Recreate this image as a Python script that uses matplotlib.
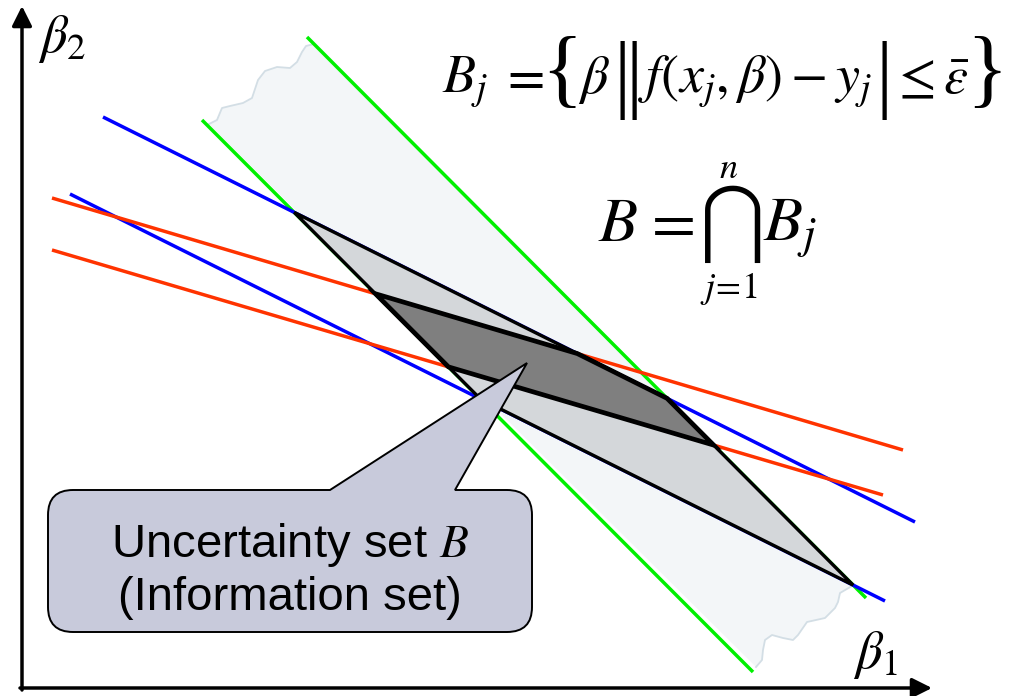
import numpy as np
import matplotlib
matplotlib.use("Agg")
import matplotlib.pyplot as plt
from matplotlib.path import Path
from matplotlib.patches import PathPatch, Polygon

plt.rcParams['font.family'] = ['Liberation Sans', 'DejaVu Sans']
plt.rcParams['mathtext.fontset'] = 'stix'

# constraint lines in the (beta1, beta2) plane, given by two end points each
green_lo = [(202, 120), (753, 672)]
green_hi = [(307, 37), (866, 598)]
blue_hi = [(103, 117), (915, 522)]
blue_lo = [(70, 194), (885, 601)]
red_hi = [(52, 198), (903, 450)]
red_lo = [(52, 250), (883, 495)]

# ragged ends of the shaded band between the green lines
band_top = [(209, 124), (217, 120), (222, 108), (230, 106), (243, 103), (252, 98),
            (258, 80), (265, 71), (277, 67), (290, 68), (297, 62), (302, 52),
            (306, 46), (314, 44)]
band_bottom = [(852, 586), (840, 593), (838, 602), (835, 608), (825, 618), (807, 622),
               (798, 635), (793, 640), (783, 638), (772, 635), (765, 640), (763, 650),
               (762, 660), (756, 667)]

callout_box = (48, 490, 532, 632)   # x0, y_top, x1, y_bottom
callout_tip = [(330, 490), (527, 363), (455, 490)]


def cross(l1, l2):
    (x1, y1), (x2, y2) = l1
    (x3, y3), (x4, y4) = l2
    a = np.array([[x2 - x1, -(x4 - x3)], [y2 - y1, -(y4 - y3)]], float)
    t, _ = np.linalg.solve(a, [x3 - x1, y3 - y1])
    return (x1 + t * (x2 - x1), y1 + t * (y2 - y1))


fig = plt.figure(figsize=(10.1, 6.96), dpi=100)
ax = fig.add_axes([0, 0, 1, 1])
ax.set_xlim(0, 1010)
ax.set_ylim(696, 0)
ax.axis('off')

# light band (B_j for the green pair)
band = band_top + band_bottom
ax.add_patch(Polygon(band, closed=True, facecolor='#f3f6f8', edgecolor='none', zorder=1))
for edge in (band_top, band_bottom):
    xs, ys = zip(*edge)
    ax.plot(xs, ys, color='#d3dee5', lw=1.3, zorder=1.5)

for ln, c in [(green_lo, '#00f000'), (green_hi, '#00f000'),
              (blue_hi, '#0000ff'), (blue_lo, '#0000ff'),
              (red_hi, '#ff3300'), (red_lo, '#ff3300')]:
    xs, ys = zip(*ln)
    ax.plot(xs, ys, color=c, lw=2.5, solid_capstyle='butt', zorder=2)

# intersection of the green and blue bands
light = [cross(blue_hi, green_lo), cross(blue_hi, green_hi),
         cross(blue_lo, green_hi), cross(blue_lo, green_lo)]
ax.add_patch(Polygon(light, closed=True, facecolor='#d4d7da', edgecolor='black',
                     lw=2.4, joinstyle='miter', zorder=3))

# intersection of all three bands
dark = [cross(red_hi, green_lo), cross(red_hi, blue_hi), cross(blue_hi, green_hi),
        cross(red_lo, green_hi), cross(red_lo, green_lo)]
ax.add_patch(Polygon(dark, closed=True, facecolor='#7f7f7f', edgecolor='black',
                     lw=3.4, joinstyle='miter', zorder=4))

# speech bubble
x0, y0, x1, y1 = callout_box
r = 25
verts = [(x0 + r, y0), callout_tip[0], callout_tip[1], callout_tip[2],
         (x1 - r, y0), (x1, y0), (x1, y0 + r),
         (x1, y1 - r), (x1, y1), (x1 - r, y1),
         (x0 + r, y1), (x0, y1), (x0, y1 - r),
         (x0, y0 + r), (x0, y0), (x0 + r, y0), (x0 + r, y0)]
codes = [Path.MOVETO, Path.LINETO, Path.LINETO, Path.LINETO,
         Path.LINETO, Path.CURVE3, Path.CURVE3,
         Path.LINETO, Path.CURVE3, Path.CURVE3,
         Path.LINETO, Path.CURVE3, Path.CURVE3,
         Path.LINETO, Path.CURVE3, Path.CURVE3, Path.CLOSEPOLY]
ax.add_patch(PathPatch(Path(verts, codes), facecolor='#c8cadb', edgecolor='black',
                       lw=1.4, zorder=5))
ax.text(290, 545, r"Uncertainty set $B$", fontsize=34, ha='center', va='center', zorder=6)
ax.text(290, 598, "(Information set)", fontsize=34, ha='center', va='center', zorder=6)

# axes arrows
arrow = dict(arrowstyle='-|>', lw=2.5, color='black', mutation_scale=30,
             shrinkA=0, shrinkB=0)
ax.annotate('', xy=(22, 6), xytext=(22, 690), arrowprops=arrow)
ax.annotate('', xy=(932, 688), xytext=(20, 688), arrowprops=arrow)
ax.text(38, 52, r"$\beta_2$", fontsize=38, va='baseline')
ax.text(853, 668, r"$\beta_1$", fontsize=38, va='baseline')

# set definition
fs = 39
base = 93
serif = ['Liberation Serif', 'DejaVu Serif']
ax.text(442, base, r"$B_j$", fontsize=fs, va='baseline')
ax.text(500, base, r"$=$", fontsize=fs, va='baseline')
ax.text(541, 75, "{", fontsize=62, family=serif, va='center')
ax.text(578, base, r"$\beta$", fontsize=fs, va='baseline')
ax.text(613, 80, "|", fontsize=62, family=serif, va='center')
ax.text(626, 80, "|", fontsize=62, family=serif, va='center')
ax.text(638, base, r"$f(x_j, \beta)-y_j$", fontsize=fs, va='baseline')
ax.text(876, 80, "|", fontsize=62, family=serif, va='center')
ax.text(891, base, r"$\leq\bar{\varepsilon}$", fontsize=fs, va='baseline')
ax.text(966, 75, "}", fontsize=62, family=serif, va='center')

# intersection formula
ax.text(598, 241, r"$B$", fontsize=46, va='baseline')
ax.text(642, 241, r"$=$", fontsize=46, va='baseline')
ax.text(729, 224, r"$\bigcap$", fontsize=54, ha='center', va='center')
ax.text(729, 178, r"$n$", fontsize=26, ha='center', va='baseline')
ax.text(729, 298, r"$j\!=\!1$", fontsize=26, ha='center', va='baseline')
ax.text(763, 241, r"$B_j$", fontsize=46, va='baseline')

fig.savefig("out.png", dpi=100)
